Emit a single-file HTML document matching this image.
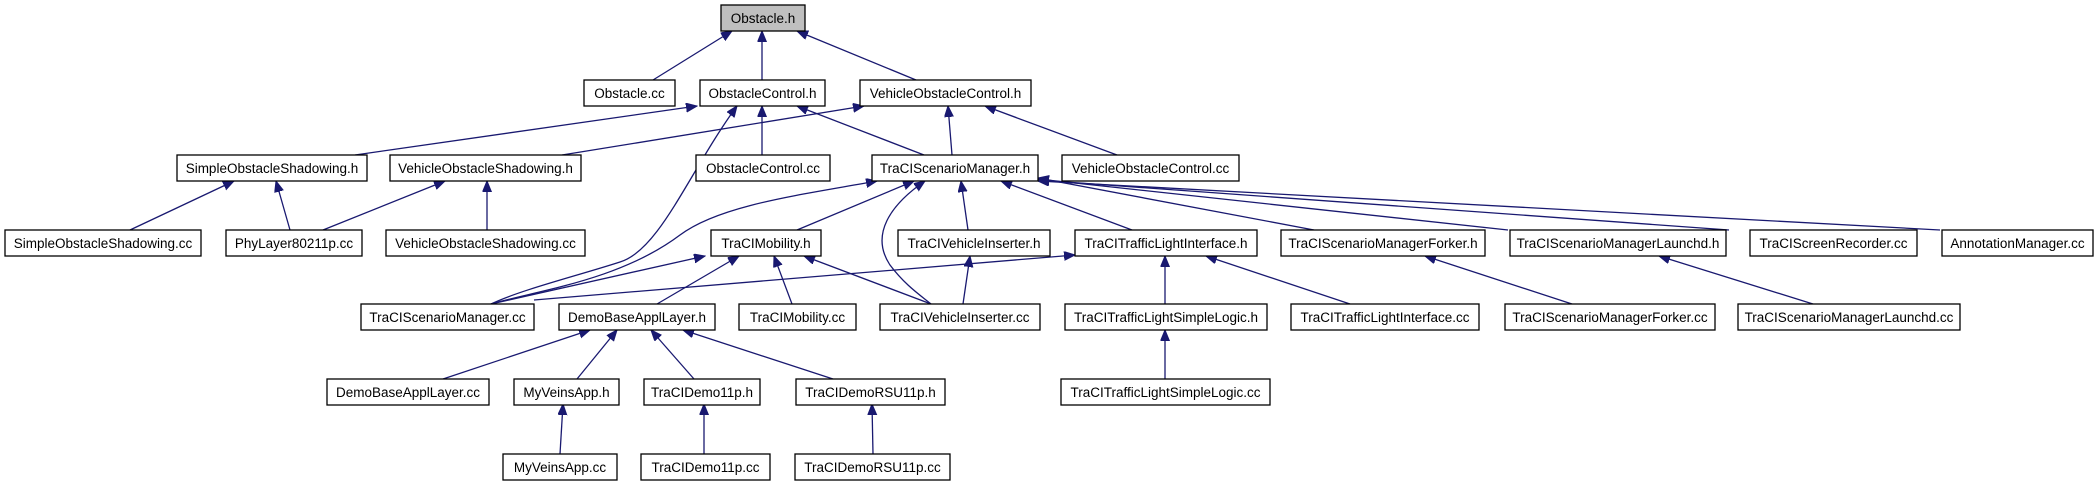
<!DOCTYPE html>
<html><head><meta charset="utf-8"><style>
html,body{margin:0;padding:0;background:#fff;}
svg{display:block;}
text{font-family:"Liberation Sans",sans-serif;font-size:13.5px;fill:#000;}
</style></head><body>
<svg width="2099" height="485" viewBox="0 0 2099 485" xmlns="http://www.w3.org/2000/svg">
<defs>
<marker id="a" markerUnits="userSpaceOnUse" markerWidth="12" markerHeight="10" refX="11" refY="4.5" orient="auto-start-reverse">
<path d="M0,0 L11,4.5 L0,9 z" fill="#191970" stroke="#191970"/>
</marker>
</defs>
<g fill="none" stroke="#191970" stroke-width="1.3" marker-start="url(#a)">
<line x1="732" y1="31" x2="653" y2="80"/>
<line x1="762" y1="31" x2="762" y2="80"/>
<line x1="797" y1="31" x2="916" y2="80"/>
<line x1="697" y1="106" x2="355" y2="155"/>
<path d="M737,106 C690,170 660,250 620,262 C580,275 520,290 491,304"/>
<line x1="762" y1="106" x2="762" y2="155"/>
<line x1="797" y1="106" x2="924" y2="155"/>
<line x1="864" y1="106" x2="562" y2="155"/>
<line x1="948" y1="106" x2="952" y2="155"/>
<line x1="985" y1="106" x2="1117" y2="155"/>
<line x1="234" y1="181" x2="130" y2="230"/>
<line x1="276" y1="181" x2="290" y2="230"/>
<line x1="445" y1="181" x2="323" y2="230"/>
<line x1="487" y1="181" x2="487" y2="230"/>
<path d="M877,181 C800,195 720,205 680,235 C620,280 540,290 491,304"/>
<line x1="914" y1="181" x2="797" y2="230"/>
<path d="M925,181 C890,205 870,235 890,265 C905,285 920,295 931,304"/>
<line x1="961" y1="181" x2="968" y2="230"/>
<line x1="1001" y1="181" x2="1132" y2="230"/>
<line x1="1038" y1="178" x2="1314" y2="230"/>
<line x1="1038" y1="179" x2="1508" y2="230"/>
<line x1="1038" y1="180" x2="1729" y2="230"/>
<line x1="1038" y1="181" x2="1940" y2="230"/>
<line x1="705" y1="256" x2="491" y2="304"/>
<line x1="739" y1="256" x2="657" y2="304"/>
<line x1="774" y1="256" x2="792" y2="304"/>
<line x1="804" y1="256" x2="931" y2="304"/>
<line x1="970" y1="256" x2="963" y2="304"/>
<line x1="1075" y1="255" x2="534" y2="300"/>
<line x1="1165" y1="256" x2="1165" y2="304"/>
<line x1="1206" y1="256" x2="1350" y2="304"/>
<line x1="1425" y1="256" x2="1572" y2="304"/>
<line x1="1659" y1="256" x2="1813" y2="304"/>
<line x1="1165" y1="330" x2="1165" y2="379"/>
<line x1="590" y1="330" x2="443" y2="379"/>
<line x1="617" y1="330" x2="577" y2="379"/>
<line x1="651" y1="330" x2="694" y2="379"/>
<line x1="683" y1="330" x2="833" y2="379"/>
<line x1="563" y1="404" x2="560" y2="454"/>
<line x1="704" y1="404" x2="704" y2="454"/>
<line x1="872" y1="404" x2="873" y2="454"/>
</g>
<g stroke="#000" stroke-width="1.3" fill="#fff">
<rect x="721" y="5" width="84" height="26" fill="#bfbfbf"/>
<rect x="584" y="80" width="91" height="26"/>
<rect x="700" y="80" width="125" height="26"/>
<rect x="860" y="80" width="171" height="26"/>
<rect x="177" y="155" width="190" height="26"/>
<rect x="390" y="155" width="191" height="26"/>
<rect x="696" y="155" width="134" height="26"/>
<rect x="872" y="155" width="166" height="26"/>
<rect x="1062" y="155" width="177" height="26"/>
<rect x="5" y="230" width="196" height="26"/>
<rect x="226" y="230" width="136" height="26"/>
<rect x="386" y="230" width="199" height="26"/>
<rect x="711" y="230" width="110" height="26"/>
<rect x="898" y="230" width="152" height="26"/>
<rect x="1075" y="230" width="182" height="26"/>
<rect x="1281" y="230" width="204" height="26"/>
<rect x="1510" y="230" width="216" height="26"/>
<rect x="1750" y="230" width="167" height="26"/>
<rect x="1942" y="230" width="151" height="26"/>
<rect x="361" y="304" width="173" height="26"/>
<rect x="559" y="304" width="156" height="26"/>
<rect x="739" y="304" width="117" height="26"/>
<rect x="880" y="304" width="160" height="26"/>
<rect x="1065" y="304" width="202" height="26"/>
<rect x="1291" y="304" width="188" height="26"/>
<rect x="1505" y="304" width="210" height="26"/>
<rect x="1738" y="304" width="222" height="26"/>
<rect x="327" y="379" width="162" height="26"/>
<rect x="514" y="379" width="105" height="26"/>
<rect x="644" y="379" width="116" height="26"/>
<rect x="796" y="379" width="149" height="26"/>
<rect x="1061" y="379" width="209" height="26"/>
<rect x="503" y="454" width="114" height="26"/>
<rect x="641" y="454" width="129" height="26"/>
<rect x="795" y="454" width="155" height="26"/>
</g>
<g text-anchor="middle" lengthAdjust="spacingAndGlyphs">
<text x="763" y="23">Obstacle.h</text>
<text x="629.5" y="98">Obstacle.cc</text>
<text x="762.5" y="98">ObstacleControl.h</text>
<text x="945.5" y="98">VehicleObstacleControl.h</text>
<text x="272" y="173">SimpleObstacleShadowing.h</text>
<text x="485.5" y="173">VehicleObstacleShadowing.h</text>
<text x="763" y="173">ObstacleControl.cc</text>
<text x="955" y="173">TraCIScenarioManager.h</text>
<text x="1150.5" y="173">VehicleObstacleControl.cc</text>
<text x="103" y="248">SimpleObstacleShadowing.cc</text>
<text x="294" y="248">PhyLayer80211p.cc</text>
<text x="485.5" y="248">VehicleObstacleShadowing.cc</text>
<text x="766" y="248">TraCIMobility.h</text>
<text x="974" y="248">TraCIVehicleInserter.h</text>
<text x="1166" y="248">TraCITrafficLightInterface.h</text>
<text x="1383" y="248">TraCIScenarioManagerForker.h</text>
<text x="1618" y="248">TraCIScenarioManagerLaunchd.h</text>
<text x="1833.5" y="248">TraCIScreenRecorder.cc</text>
<text x="2017.5" y="248">AnnotationManager.cc</text>
<text x="447.5" y="322">TraCIScenarioManager.cc</text>
<text x="637" y="322">DemoBaseApplLayer.h</text>
<text x="797.5" y="322">TraCIMobility.cc</text>
<text x="960" y="322">TraCIVehicleInserter.cc</text>
<text x="1166" y="322">TraCITrafficLightSimpleLogic.h</text>
<text x="1385" y="322">TraCITrafficLightInterface.cc</text>
<text x="1610" y="322">TraCIScenarioManagerForker.cc</text>
<text x="1849" y="322">TraCIScenarioManagerLaunchd.cc</text>
<text x="408" y="397">DemoBaseApplLayer.cc</text>
<text x="566.5" y="397">MyVeinsApp.h</text>
<text x="702" y="397">TraCIDemo11p.h</text>
<text x="870.5" y="397">TraCIDemoRSU11p.h</text>
<text x="1165.5" y="397">TraCITrafficLightSimpleLogic.cc</text>
<text x="560" y="472">MyVeinsApp.cc</text>
<text x="705.5" y="472">TraCIDemo11p.cc</text>
<text x="872.5" y="472">TraCIDemoRSU11p.cc</text>
</g>
</svg>
</body></html>
